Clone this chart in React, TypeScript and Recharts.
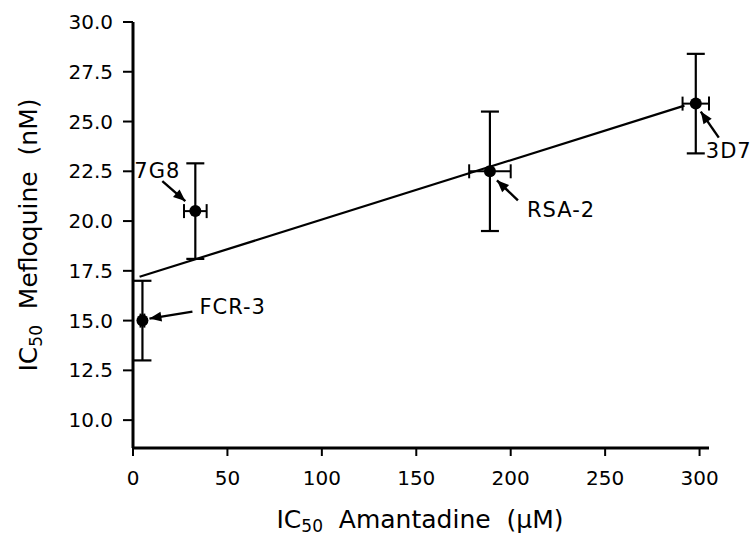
import React from "react"
import { ComposedChart, Scatter, Line, XAxis, YAxis, ErrorBar, Label } from "recharts"

// strain values
const strains = ["FCR-3", "7G8", "RSA-2", "3D7"]
const amantadine = [5, 33, 189, 298]
const amantadineErr = [1, 6, 11, 7]
const mefloquine = [15.0, 20.5, 22.5, 25.9]
const mefloquineErr = [2.0, 2.4, 3.0, 2.5]

// regression line end points
const fitX = [3.5, 292]
const fitY = [17.2, 25.8]

const xTicks = [0, 50, 100, 150, 200, 250, 300]
const yTicks = [10, 12.5, 15, 17.5, 20, 22.5, 25, 27.5, 30]

const points = strains.map((name, i) => ({
  name,
  x: amantadine[i],
  y: mefloquine[i],
  ex: amantadineErr[i],
  ey: mefloquineErr[i],
}))

const fitLine = fitX.map((x, i) => ({ x, y: fitY[i] }))

// annotation placement, pixels relative to the point
const callouts: Record<string, { tail: number[]; head: number[]; text: number[]; anchor: string }> = {
  "FCR-3": { tail: [50, -9], head: [7, -2], text: [57, -7], anchor: "start" },
  "7G8": { tail: [-33, -30], head: [-10, -10], text: [-15, -33], anchor: "end" },
  "RSA-2": { tail: [28, 29], head: [7, 9], text: [37, 46], anchor: "start" },
  "3D7": { tail: [23, 34], head: [5, 8], text: [10, 54], anchor: "start" },
}

const font = "'DejaVu Sans', Verdana, sans-serif"

const arrowHead = (hx: number, hy: number, tx: number, ty: number) => {
  const a = Math.atan2(hy - ty, hx - tx)
  const len = 12
  const w = 5
  const bx = hx - len * Math.cos(a)
  const by = hy - len * Math.sin(a)
  const px = -Math.sin(a) * w
  const py = Math.cos(a) * w
  return `${hx},${hy} ${bx + px},${by + py} ${bx - px},${by - py}`
}

const StrainDot = (props: any) => {
  const { cx, cy, payload } = props
  const c = callouts[payload.name]
  const tx = cx + c.tail[0]
  const ty = cy + c.tail[1]
  const hx = cx + c.head[0]
  const hy = cy + c.head[1]
  return (
    <g>
      <circle cx={cx} cy={cy} r={6} fill="#000" />
      <line x1={tx} y1={ty} x2={hx} y2={hy} stroke="#000" strokeWidth={2.4} />
      <polygon points={arrowHead(hx, hy, tx, ty)} fill="#000" />
      <text
        x={cx + c.text[0]}
        y={cy + c.text[1]}
        textAnchor={c.anchor}
        fontFamily={font}
        fontSize={21}
        letterSpacing={1}
        fill="#000"
      >
        {payload.name}
      </text>
    </g>
  )
}

const YLabel = () => (
  <text
    transform="translate(37,235) rotate(-90)"
    textAnchor="middle"
    fontFamily={font}
    fontSize={25}
    fill="#000"
    style={{ whiteSpace: "pre" }}
  >
    <tspan>IC</tspan>
    <tspan fontSize={17} dy={5}>50</tspan>
    <tspan dy={-5}>{"  Mefloquine  (nM)"}</tspan>
  </text>
)

const XLabel = () => (
  <text x={420} y={528} textAnchor="middle" fontFamily={font} fontSize={25} fill="#000" style={{ whiteSpace: "pre" }}>
    <tspan>IC</tspan>
    <tspan fontSize={17} dy={4}>50</tspan>
    <tspan dy={-4}>{"  Amantadine  (µM)"}</tspan>
  </text>
)

const tickStyle = { fontFamily: font, fontSize: 20, fill: "#000" }

export default function App() {
  return (
    <div style={{ position: "absolute", left: 0, top: 0, width: 756, height: 540, background: "#fff" }}>
      <ComposedChart width={756} height={540} margin={{ top: 22, right: 47, bottom: 62, left: 53 }}>
        <XAxis
          type="number"
          dataKey="x"
          domain={[0, 300]}
          ticks={xTicks}
          height={30}
          tickSize={8}
          tickMargin={15}
          tick={tickStyle}
          axisLine={{ stroke: "#000", strokeWidth: 3 }}
          tickLine={{ stroke: "#000", strokeWidth: 2 }}
        >
          <Label content={() => <XLabel />} />
        </XAxis>
        <YAxis
          type="number"
          dataKey="y"
          domain={[8.6, 30]}
          ticks={yTicks}
          width={80}
          tickSize={10}
          tickMargin={10}
          tick={tickStyle}
          tickFormatter={(v: number) => v.toFixed(1)}
          axisLine={{ stroke: "#000", strokeWidth: 3 }}
          tickLine={{ stroke: "#000", strokeWidth: 2 }}
        >
          <Label content={() => <YLabel />} />
        </YAxis>
        <Line
          data={fitLine}
          dataKey="y"
          type="linear"
          stroke="#000"
          strokeWidth={2.2}
          dot={false}
          isAnimationActive={false}
        />
        <Scatter data={points} dataKey="y" shape={<StrainDot />} isAnimationActive={false}>
          <ErrorBar dataKey="ey" direction="y" width={9} stroke="#000" strokeWidth={2.2} />
          <ErrorBar dataKey="ex" direction="x" width={7} stroke="#000" strokeWidth={2} />
        </Scatter>
      </ComposedChart>
    </div>
  )
}
